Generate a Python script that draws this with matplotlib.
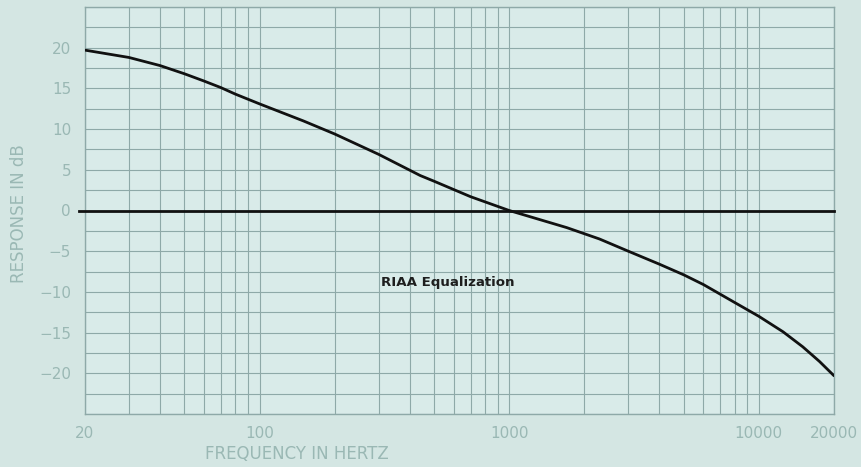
import numpy as np
import matplotlib
matplotlib.use('Agg')
import matplotlib.pyplot as plt
from matplotlib.ticker import FixedLocator, NullFormatter

# RIAA playback curve (Hz, dB)
freq_hz = [20, 30, 40, 50, 60, 70, 80, 100, 150, 200, 300, 440, 500, 700,
           1000, 1700, 2300, 3000, 4000, 5000, 6000, 8000, 10000, 12500,
           15000, 17500, 20000]
response_db = [19.7, 18.8, 17.8, 16.8, 15.9, 15.1, 14.3, 13.1, 11.0, 9.4, 6.9,
               4.3, 3.6, 1.7, 0.0, -2.1, -3.5, -5.0, -6.6, -7.9, -9.1, -11.3,
               -13.0, -14.9, -16.75, -18.55, -20.3]

x_ticks = [20, 100, 1000, 10000, 20000]
x_ticklabels = ['20', '100', '1000', '10000', '20000']
y_ticks = [20, 15, 10, 5, 0, -5, -10, -15, -20]

bg = '#d4e6e3'
grid_c = '#8ea9a8'
text_c = '#9ab8b4'

fig = plt.figure(figsize=(8.62, 4.67), dpi=100, facecolor=bg)
ax = fig.add_axes([85 / 862, 1 - 414 / 467, (834 - 85) / 862, (414 - 7) / 467])
ax.set_facecolor('#d9ebe9')

ax.set_xscale('log')
ax.set_xlim(20, 20000)
ax.set_ylim(-25, 25)

# grid: all log minor lines + every 2.5 dB
minor_x = [m * d for d in (10, 100, 1000, 10000) for m in range(1, 10)
           if 20 < m * d < 20000]
ax.xaxis.set_major_locator(FixedLocator(x_ticks))
ax.xaxis.set_minor_locator(FixedLocator(minor_x))
ax.xaxis.set_minor_formatter(NullFormatter())
ax.set_xticklabels(x_ticklabels)
ax.set_yticks(y_ticks)
ax.set_yticks(np.arange(-25, 25.1, 2.5), minor=True)
ax.yaxis.set_major_formatter(plt.FuncFormatter(lambda v, p: f'{int(v)}'.replace('-', '\u2212')))

ax.grid(True, which='both', color=grid_c, lw=0.8)
ax.set_axisbelow(True)
for s in ax.spines.values():
    s.set_color(grid_c)
    s.set_linewidth(1.0)

ax.tick_params(which='both', length=0, colors=text_c, labelsize=11)
ax.tick_params(axis='y', pad=10)
ax.tick_params(axis='x', pad=9)

# zero reference line (runs a bit past the left frame)
ax.plot([-0.008, 1], [0, 0], transform=ax.get_yaxis_transform(),
        color='#111111', lw=2.0, clip_on=False, zorder=3)

ax.plot(freq_hz, response_db, color='#111111', lw=2.0, zorder=4,
        solid_capstyle='round', solid_joinstyle='round')

ax.text(570, -8.9, 'RIAA Equalization', ha='center', va='center',
        fontsize=9.6, fontweight='bold', color='#1e1e1e')

fig.text(297 / 862, 1 - 454 / 467, 'FREQUENCY IN HERTZ', ha='center',
         va='center', fontsize=12, color=text_c)
fig.text(19 / 862, 1 - 214 / 467, 'RESPONSE IN dB', ha='center',
         va='center', rotation=90, fontsize=12, color=text_c)

fig.savefig('out.png', dpi=100, facecolor=bg)
